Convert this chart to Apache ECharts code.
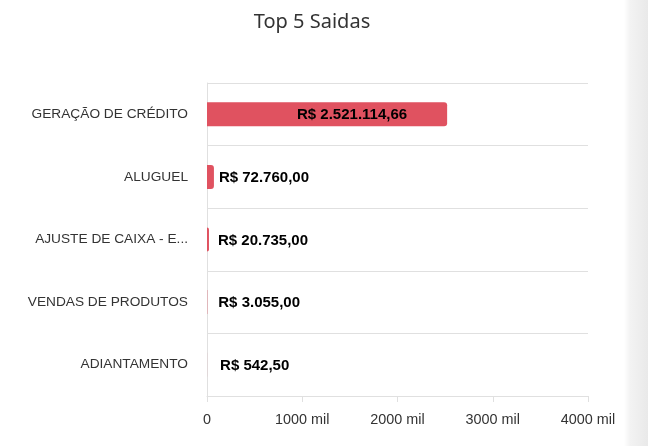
<!DOCTYPE html>
<html>
<head>
<meta charset="utf-8">
<script src="https://cdn.jsdelivr.net/npm/echarts@6/dist/echarts.min.js"></script>
<style>
html,body{margin:0;padding:0;width:648px;height:446px;overflow:hidden;background:#fff;}
#wrap{position:absolute;left:0;top:0;width:648px;height:446px;background:linear-gradient(to right,#ffffff 0px,#ffffff 624px,#f3f3f3 630px,#e9e9e9 648px);}
#chart{position:absolute;left:0;top:0;width:624px;height:446px;background:#fff;}
</style>
</head>
<body>
<div id="wrap"><div id="chart"></div></div>
<script>
const categories = ['GERAÇÃO DE CRÉDITO', 'ALUGUEL', 'AJUSTE DE CAIXA - E...', 'VENDAS DE PRODUTOS', 'ADIANTAMENTO'];
const values = [2521114.66, 72760.00, 20735.00, 3055.00, 542.50];
const labelPositions = ['inside', 'right', 'right', 'right', 'right'];
const xTicks = [0, 1000000, 2000000, 3000000, 4000000];

function brl(v){
  const parts = v.toFixed(2).split('.');
  const int = parts[0].replace(/\B(?=(\d{3})+(?!\d))/g, '.');
  return 'R$ ' + int + ',' + parts[1];
}

const labelDistance = [0, 5, 9, 11, 13];

const chart = echarts.init(document.getElementById('chart'));
chart.setOption({
  animation: false,
  title: {
    text: 'Top 5 Saidas',
    left: 'center',
    top: 7,
    textStyle: {fontFamily: 'Noto Sans', fontSize: 20, fontWeight: 'normal', color: '#333'}
  },
  grid: {left: 207, right: 624 - 588, top: 83, bottom: 446 - 396, containLabel: false},
  xAxis: {
    type: 'value',
    min: xTicks[0],
    max: xTicks[xTicks.length - 1],
    interval: 1000000,
    axisLine: {show: true, lineStyle: {color: '#e0e0e0', width: 1}},
    axisTick: {show: true, length: 6, lineStyle: {color: '#e0e0e0'}},
    splitLine: {show: false},
    axisLabel: {
      margin: 17,
      fontFamily: 'Liberation Sans, Arial',
      fontSize: 14.4,
      color: '#333',
      formatter: v => v === 0 ? '0' : (v / 1000) + ' mil'
    }
  },
  yAxis: {
    type: 'category',
    data: categories,
    inverse: true,
    axisLine: {show: true, lineStyle: {color: '#e0e0e0', width: 1}},
    axisTick: {show: false},
    splitLine: {show: true, lineStyle: {color: '#e0e0e0', width: 1}},
    axisLabel: {
      margin: 19,
      fontFamily: 'Liberation Sans, Arial',
      fontSize: 13.7,
      color: '#333'
    }
  },
  series: [{
    type: 'bar',
    barWidth: 24,
    data: values.map((v, i) => ({
      value: v,
      label: labelPositions[i] === 'inside'
        ? {position: 'inside', offset: [25, 1]}
        : {position: 'right', distance: labelDistance[i], offset: [0, 1]}
    })),
    itemStyle: {color: '#e05260', borderRadius: [0, 3, 3, 0]},
    label: {
      show: true,
      fontFamily: 'Liberation Sans, Arial',
      fontSize: 15,
      fontWeight: 'bold',
      color: '#000',
      formatter: p => brl(p.value)
    }
  }]
});
</script>
</body>
</html>
